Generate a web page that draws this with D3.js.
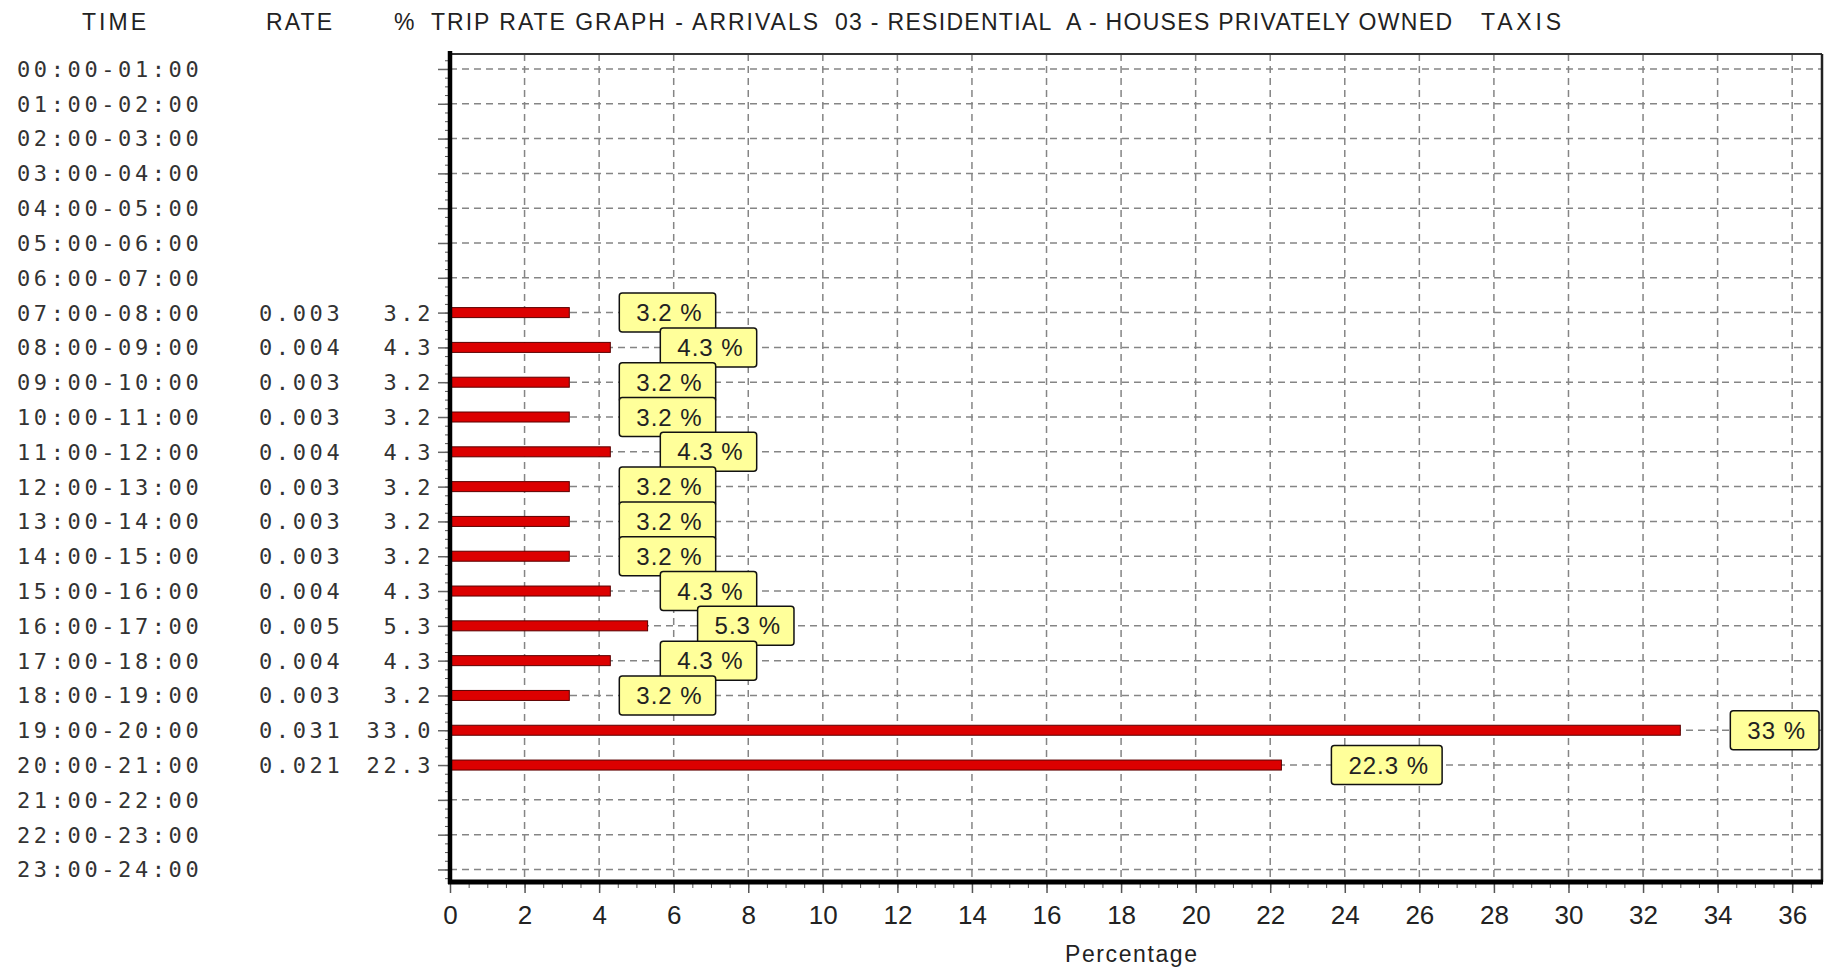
<!DOCTYPE html>
<html>
<head>
<meta charset="utf-8">
<script src="https://cdn.jsdelivr.net/npm/d3@7"></script>
<style>
  body { margin: 0; background: #fff; }
  svg { display: block; }
  .mono { font-family: "DejaVu Sans Mono", monospace; font-size: 22px; letter-spacing: 3.6px; fill: #333; }
  .sans { font-family: "Liberation Sans Narrow", "Liberation Sans", sans-serif; fill: #222; }
  .lbl { font-family: "Liberation Sans", sans-serif; font-size: 24px; letter-spacing: 1px; fill: #222; }
</style>
</head>
<body>
<div id="chart"></div>
<script>
// hourly rows
const times = ["00:00-01:00","01:00-02:00","02:00-03:00","03:00-04:00","04:00-05:00","05:00-06:00",
  "06:00-07:00","07:00-08:00","08:00-09:00","09:00-10:00","10:00-11:00","11:00-12:00",
  "12:00-13:00","13:00-14:00","14:00-15:00","15:00-16:00","16:00-17:00","17:00-18:00",
  "18:00-19:00","19:00-20:00","20:00-21:00","21:00-22:00","22:00-23:00","23:00-24:00"]
const rates = [null,null,null,null,null,null,null,0.003,0.004,0.003,0.003,0.004,0.003,0.003,0.003,
  0.004,0.005,0.004,0.003,0.031,0.021,null,null,null]
const pcts = [null,null,null,null,null,null,null,3.2,4.3,3.2,3.2,4.3,3.2,3.2,3.2,
  4.3,5.3,4.3,3.2,33.0,22.3,null,null,null]
const xTicks = d3.range(0, 37, 2)
const titleParts = [
  {text: "TRIP RATE GRAPH - ARRIVALS", x: 431, w: 387},
  {text: "03 - RESIDENTIAL  A - HOUSES PRIVATELY OWNED", x: 835, w: 617},
  {text: "TAXIS", x: 1481, w: 80}
]

const W = 1828, H = 969
const pLeft = 450, pRight = 1822, pTop = 54, pBottom = 882

const svg = d3.select("#chart").append("svg").attr("width", W).attr("height", H)

const xScale = d3.scaleLinear().domain([0, 36.8]).range([pLeft, pRight])
const yScale = d3.scaleLinear().domain([-0.43, 23.36]).range([pTop, pBottom])

const rows = times.map((t, i) => ({t, i, rate: rates[i], pct: pcts[i]}))
const filled = rows.filter(d => d.pct != null)

// headers
const hdr = svg.append("g").attr("class", "sans").style("font-size", "23px")
hdr.append("text").attr("x", 82).attr("y", 30).attr("textLength", 64).attr("lengthAdjust", "spacing").text("TIME")
hdr.append("text").attr("x", 266).attr("y", 30).attr("textLength", 66).attr("lengthAdjust", "spacing").text("RATE")
hdr.append("text").attr("x", 394).attr("y", 30).text("%")
hdr.selectAll("text.title").data(titleParts).join("text")
  .attr("class", "title")
  .attr("x", d => d.x).attr("y", 30)
  .attr("textLength", d => d.w).attr("lengthAdjust", "spacing")
  .style("white-space", "pre")
  .text(d => d.text)

// grid
const grid = svg.append("g").attr("stroke", "#858585").attr("stroke-width", 1.5).attr("stroke-dasharray", "7,5")
grid.selectAll("line.v").data(xTicks.filter(v => v > 0)).join("line")
  .attr("class", "v")
  .attr("x1", d => xScale(d)).attr("x2", d => xScale(d))
  .attr("y1", pTop).attr("y2", pBottom)
grid.selectAll("line.h").data(rows).join("line")
  .attr("class", "h")
  .attr("x1", pLeft).attr("x2", pRight)
  .attr("y1", d => yScale(d.i)).attr("y2", d => yScale(d.i))

// bars
svg.append("g").selectAll("rect").data(filled).join("rect")
  .attr("x", xScale(0))
  .attr("y", d => yScale(d.i) - 5)
  .attr("width", d => xScale(d.pct) - xScale(0))
  .attr("height", 10)
  .attr("fill", "#dc0000")
  .attr("stroke", "#5a0000")
  .attr("stroke-width", 1)

// value boxes
const boxes = svg.append("g").selectAll("g").data(filled).join("g")
  .attr("transform", d => `translate(${xScale(d.pct) + 50},${yScale(d.i)})`)
boxes.append("text").attr("class", "lbl")
  .attr("x", 17).attr("dy", "0.36em")
  .text(d => (+d.pct) + " %")
boxes.insert("rect", "text")
  .attr("x", 0).attr("y", -19.5).attr("rx", 3)
  .attr("height", 39)
  .attr("width", function() { return this.parentNode.querySelector("text").getComputedTextLength() + 30 })
  .attr("fill", "#ffff9a").attr("stroke", "#111").attr("stroke-width", 1.5)

// left columns
const cols = svg.append("g").attr("class", "mono")
cols.selectAll("text.time").data(rows).join("text")
  .attr("class", "time").attr("x", 17).attr("y", d => yScale(d.i)).attr("dy", "0.36em")
  .text(d => d.t)
cols.selectAll("text.rate").data(filled).join("text")
  .attr("class", "rate").attr("x", 259).attr("y", d => yScale(d.i)).attr("dy", "0.36em")
  .text(d => d3.format(".3f")(d.rate))
cols.selectAll("text.pct").data(filled).join("text")
  .attr("class", "pct").attr("x", 434).attr("y", d => yScale(d.i)).attr("dy", "0.36em")
  .attr("text-anchor", "end")
  .text(d => d3.format(".1f")(d.pct))

// y axis ticks (major at rows, minor at quarters)
svg.append("g").attr("transform", `translate(${pLeft},0)`)
  .call(d3.axisLeft(yScale).tickValues(d3.range(-0.25, 23.3, 0.25)).tickSize(5).tickFormat(""))
  .call(g => g.select(".domain").remove())
  .call(g => g.selectAll("line").attr("stroke", "#555"))
svg.append("g").attr("transform", `translate(${pLeft},0)`)
  .call(d3.axisLeft(yScale).tickValues(d3.range(24)).tickSize(12).tickFormat(""))
  .call(g => g.select(".domain").remove())
  .call(g => g.selectAll("line").attr("stroke", "#666").attr("stroke-width", 1.5))

// x axis ticks
svg.append("g").attr("transform", `translate(0,${pBottom})`)
  .call(d3.axisBottom(xScale).tickValues(d3.range(0, 36.8, 0.5)).tickSize(6).tickFormat(""))
  .call(g => g.select(".domain").remove())
  .call(g => g.selectAll("line").attr("stroke", "#555"))
const xAxis = svg.append("g").attr("transform", `translate(0,${pBottom})`)
  .call(d3.axisBottom(xScale).tickValues(xTicks).tickSize(11).tickPadding(13))
xAxis.select(".domain").remove()
xAxis.selectAll("line").attr("stroke", "#555").attr("stroke-width", 1.5)
xAxis.selectAll("text").attr("class", "sans").style("font-size", "26px").attr("fill", "#222")

// frame
const frame = svg.append("g")
frame.append("line").attr("x1", pLeft).attr("x2", pRight).attr("y1", pTop).attr("y2", pTop)
  .attr("stroke", "#333").attr("stroke-width", 2)
frame.append("line").attr("x1", pRight).attr("x2", pRight).attr("y1", pTop).attr("y2", pBottom)
  .attr("stroke", "#222").attr("stroke-width", 2.5)
frame.append("line").attr("x1", pLeft).attr("x2", pLeft).attr("y1", pTop - 3).attr("y2", pBottom + 2)
  .attr("stroke", "#000").attr("stroke-width", 4.5)
frame.append("line").attr("x1", pLeft - 2).attr("x2", pRight + 1).attr("y1", pBottom).attr("y2", pBottom)
  .attr("stroke", "#000").attr("stroke-width", 5)

svg.append("text").attr("class", "sans").style("font-size", "23px")
  .attr("x", 1131).attr("y", 962).attr("text-anchor", "middle")
  .attr("textLength", 132).attr("lengthAdjust", "spacing")
  .text("Percentage")
</script>
</body>
</html>
